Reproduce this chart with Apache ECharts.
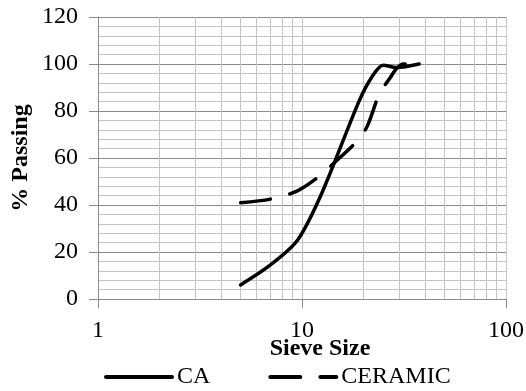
<!DOCTYPE html>
<html>
<head>
<meta charset="utf-8">
<script src="https://cdn.jsdelivr.net/npm/echarts@6/dist/echarts.min.js"></script>
<style>
  html, body { margin: 0; padding: 0; background: #fff; }
  #chart { width: 526px; height: 391px; }
</style>
</head>
<body>
<div id="chart"></div>
<script>
// sieve size (mm) vs % passing
const caData = [[5, 6], [7, 14.5], [9.5, 25], [12.5, 45], [19, 84], [22, 94.5], [25, 99.5], [29, 98.5], [37.5, 100]];
const ceramicData = [[5, 41], [7, 42.5], [9.5, 46], [12.5, 53], [14, 57], [19, 68], [21, 74], [24, 87.5], [27, 94], [29, 98], [31.5, 100], [38, 100]];
const minorX = [2, 3, 4, 5, 6, 7, 8, 9, 20, 30, 40, 50, 60, 70, 80, 90];
const seriesNames = ['CA', 'CERAMIC'];

const font = 'Liberation Serif';
const chart = echarts.init(document.getElementById('chart'));

const option = {
  animation: false,
  grid: { left: 98, right: 20, top: 17, bottom: 92, outerBoundsMode: 'none', containLabel: false },
  legend: {
    left: 99,
    top: 360,
    itemWidth: 66,
    itemHeight: 14,
    itemGap: 58,
    itemStyle: { opacity: 0 },
    lineStyle: { width: 4, cap: 'round' },
    textStyle: { fontFamily: font, fontSize: 24, color: '#000' },
    data: seriesNames
  },
  xAxis: {
    type: 'log',
    logBase: 10,
    min: 1,
    max: 100,
    name: 'Sieve Size',
    nameLocation: 'middle',
    nameGap: 38,
    nameMoveOverlap: false,
    nameTextStyle: { fontFamily: font, fontSize: 24, fontWeight: 'bold', color: '#000', padding: [0, 0, 0, 36] },
    axisLine: { show: true, lineStyle: { color: '#8c8c8c', width: 1 } },
    axisTick: { show: true, length: 9, lineStyle: { color: '#8c8c8c' } },
    axisLabel: { fontFamily: font, fontSize: 24, color: '#000', margin: 20 },
    splitLine: { show: true, lineStyle: { color: '#c4c4c4', width: 1 } }
  },
  yAxis: {
    type: 'value',
    min: 0,
    max: 120,
    interval: 20,
    name: '% Passing',
    nameLocation: 'middle',
    nameGap: 65,
    nameMoveOverlap: false,
    nameRotate: 90,
    nameTextStyle: { fontFamily: font, fontSize: 24, fontWeight: 'bold', color: '#000' },
    axisLine: { show: true, lineStyle: { color: '#8c8c8c', width: 1 } },
    axisTick: { show: true, length: 9, lineStyle: { color: '#8c8c8c' } },
    axisLabel: { fontFamily: font, fontSize: 24, color: '#000', margin: 20 },
    splitLine: { show: true, lineStyle: { color: '#8c8c8c', width: 1 } },
    minorTick: { show: false, splitNumber: 5 },
    minorSplitLine: { show: true, lineStyle: { color: '#c4c4c4', width: 1 } }
  },
  series: [
    {
      name: seriesNames[0],
      type: 'line',
      data: caData,
      smooth: 0.3,
      symbol: 'none',
      lineStyle: { color: '#000', width: 3.5, cap: 'round', join: 'round' },
      itemStyle: { color: '#000' },
      z: 3,
      markLine: {
        silent: true,
        symbol: 'none',
        label: { show: false },
        lineStyle: { color: '#c4c4c4', width: 1, type: 'solid' },
        data: minorX.map(v => ({ xAxis: v })),
        z: 1
      }
    },
    {
      name: seriesNames[1],
      type: 'line',
      data: ceramicData,
      smooth: 0.3,
      symbol: 'none',
      lineStyle: { color: '#000', width: 3.5, type: [30, 20], cap: 'round', join: 'round' },
      itemStyle: { color: '#000' },
      z: 3
    }
  ]
};

chart.setOption(option);
</script>
</body>
</html>
